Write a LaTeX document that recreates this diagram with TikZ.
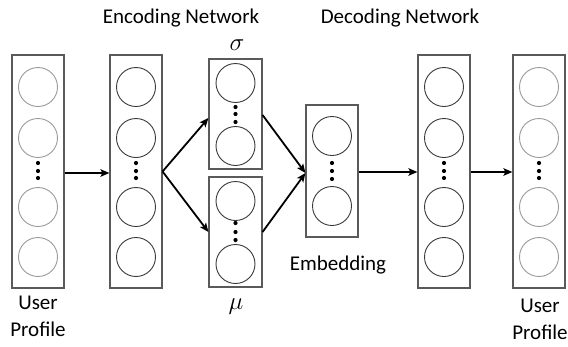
\documentclass[tikz,border=0pt]{standalone}
\usepackage{fontspec}
\setmainfont{Carlito}
\usetikzlibrary{arrows.meta}
\definecolor{framegray}{HTML}{5A5A5A}
\definecolor{unitdark}{HTML}{3A3A3A}
\definecolor{unitlight}{HTML}{9A9A9A}
\tikzset{
  layerbox/.style={draw=framegray, line width=1.1pt, fill=white, inner sep=0pt,
    minimum width=52pt},
  unit/.style={circle, draw=unitdark, line width=0.9pt, inner sep=0pt, minimum size=39pt},
  unitio/.style={unit, draw=unitlight},
  vdot/.style={circle, fill=black, inner sep=0pt, minimum size=4.2pt},
  flow/.style={line width=1.8pt, -{Stealth[length=9pt,width=7.5pt,inset=2pt]}},
  caption/.style={font=\fontsize{21}{27}\selectfont, align=center, inner sep=0pt},
  greek/.style={font=\fontsize{28}{30}\selectfont, inner sep=0pt}
}
\begin{document}
\begin{tikzpicture}[x=1pt, y=-1pt]
\useasboundingbox (0,0) rectangle (568,346);

% layer frames
\node[layerbox, minimum height=233pt] (in)    at (38,171.5)  {};
\node[layerbox, minimum height=233pt] (enc)   at (136,171.5) {};
\node[layerbox, minimum width=53pt, minimum height=110pt] (sigma) at (235.5,114) {};
\node[layerbox, minimum width=53pt, minimum height=110pt] (mu)    at (235.5,232) {};
\node[layerbox, minimum height=132pt] (emb)   at (332,171)   {};
\node[layerbox, minimum height=233pt] (dec)   at (444,171.5) {};
\node[layerbox, minimum height=233pt] (out)   at (539,171.5) {};

% units of the four tall layers
\foreach \c/\s in {in/unitio, enc/unit, dec/unit, out/unitio}{
  \path (\c.center) coordinate (\c-x);
  \foreach \y [count=\i] in {87,138,207,257}{
    \node[\s] (\c-u\i) at (\c-x |- 0,\y) {};
  }
  \foreach \y [count=\i] in {163,171,178}{
    \node[vdot] (\c-d\i) at (\c-x |- 0,\y) {};
  }
}

% units of the two small encoder outputs and the embedding
\node[unit] (sigma-u1) at (235.5,83)  {};
\node[unit] (sigma-u2) at (235.5,146) {};
\foreach \y [count=\i] in {107,114,122}{ \node[vdot] (sigma-d\i) at (235.5,\y) {}; }
\node[unit] (mu-u1) at (235.5,201) {};
\node[unit] (mu-u2) at (235.5,264) {};
\foreach \y [count=\i] in {223,232,240}{ \node[vdot] (mu-d\i) at (235.5,\y) {}; }
\node[unit] (emb-u1) at (332,136) {};
\node[unit] (emb-u2) at (332,206) {};
\foreach \y [count=\i] in {163,171,179}{ \node[vdot] (emb-d\i) at (332,\y) {}; }

% connections
\draw[flow] ([yshift=-1.5pt]in.east) -- ([yshift=-1.5pt]enc.west);
\draw[flow] (enc.east) -- ([yshift=-4pt]sigma.west);
\draw[flow] (enc.east) -- (mu.west);
\draw[flow] ([yshift=-1pt]sigma.east) -- ([yshift=-2pt]emb.west);
\draw[flow] (mu.east) -- ([yshift=-2pt]emb.west);
\draw[flow] ([yshift=-1pt]emb.east) -- ([yshift=-0.5pt]dec.west);
\draw[flow] ([yshift=-0.5pt]dec.east) -- ([yshift=-0.5pt]out.west);

% labels
\node[caption, anchor=base] (enclabel) at (181,23) {Encoding Network};
\node[caption, anchor=base] (declabel) at (400,23) {Decoding Network};
\node[greek] (sigmalabel) at (237,45) {$\sigma$};
\node[greek] (mulabel) at (236,307) {$\mu$};
\node[caption, anchor=base] (emblabel) at (338,270) {Embedding};
\node[caption, anchor=north] (inlabel) at (38,296) {User\\Profile};
\node[caption, anchor=north] (outlabel) at (540,299) {User\\Profile};
\end{tikzpicture}
\end{document}
